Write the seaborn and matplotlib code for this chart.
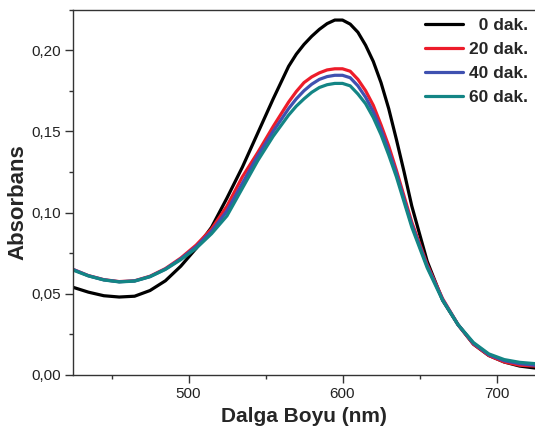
import numpy as np
import pandas as pd
import matplotlib
matplotlib.use('Agg')
import matplotlib.pyplot as plt
import seaborn as sns
from matplotlib.ticker import FuncFormatter, MultipleLocator

# wavelength grid (nm) and absorbance readings
wavelength = [425, 435, 445, 455, 465, 475, 485, 495, 505, 515, 525, 535, 545, 555, 565, 570,
              575, 580, 585, 590, 595, 600, 605, 610, 615, 620, 625, 630, 635, 640, 645,
              655, 665, 675, 685, 695, 705, 715, 725]

abs_0 = [0.054, 0.051, 0.0488, 0.048, 0.0485, 0.052, 0.058, 0.067, 0.078, 0.091, 0.109,
         0.128, 0.149, 0.170, 0.190, 0.1975, 0.2035, 0.2085, 0.2128, 0.2163, 0.2185, 0.2185,
         0.216, 0.211, 0.203, 0.193, 0.180, 0.164, 0.145, 0.125, 0.104,
         0.070, 0.046, 0.031, 0.019, 0.012, 0.008, 0.0055, 0.0043]
abs_20 = [0.065, 0.0612, 0.0587, 0.0575, 0.058, 0.0608, 0.0655, 0.072, 0.080, 0.090, 0.104,
          0.122, 0.137, 0.153, 0.168, 0.1745, 0.180, 0.1835, 0.186, 0.1878, 0.1885, 0.1885,
          0.187, 0.182, 0.175, 0.166, 0.154, 0.141, 0.126, 0.110, 0.094,
          0.068, 0.047, 0.031, 0.019, 0.012, 0.008, 0.006, 0.0055]
abs_40 = [0.065, 0.0611, 0.0586, 0.0574, 0.0579, 0.0606, 0.0652, 0.0715, 0.079, 0.0885, 0.101,
          0.118, 0.135, 0.150, 0.164, 0.170, 0.175, 0.179, 0.182, 0.1837, 0.1845, 0.1845,
          0.183, 0.178, 0.171, 0.162, 0.151, 0.138, 0.124, 0.108, 0.0925,
          0.067, 0.0465, 0.031, 0.0195, 0.0125, 0.0088, 0.007, 0.006]
abs_60 = [0.0646, 0.061, 0.0585, 0.0573, 0.0578, 0.0605, 0.065, 0.071, 0.078, 0.087, 0.098,
          0.115, 0.132, 0.147, 0.160, 0.1655, 0.170, 0.174, 0.177, 0.1787, 0.1795, 0.1795,
          0.178, 0.173, 0.167, 0.1585, 0.148, 0.1355, 0.122, 0.1065, 0.091,
          0.066, 0.046, 0.031, 0.020, 0.013, 0.0095, 0.0078, 0.007]

labels = ['  0 dak.', '20 dak.', '40 dak.', '60 dak.']
colors = ['#000000', '#ED1C2A', '#3F51B0', '#138585']

df = pd.concat([
    pd.DataFrame({'wl': wavelength, 'abs': vals, 'time': lab})
    for vals, lab in zip([abs_0, abs_20, abs_40, abs_60], labels)
])

sns.set_style('ticks')
plt.rcParams['font.family'] = ['Liberation Sans', 'DejaVu Sans']

fig = plt.figure(figsize=(5.35, 4.32), dpi=100)
ax = fig.add_axes([73 / 535, 1 - 375 / 432, 1 - 73 / 535, (375 - 9.5) / 432])

sns.lineplot(data=df, x='wl', y='abs', hue='time', hue_order=labels,
             palette=colors, linewidth=2.3, ax=ax, sort=False, estimator=None)

ax.set_xlim(425, 725)
ax.set_ylim(0, 0.225)
ax.xaxis.set_major_locator(MultipleLocator(100))
ax.xaxis.set_minor_locator(MultipleLocator(50))
ax.yaxis.set_major_locator(MultipleLocator(0.05))
ax.yaxis.set_minor_locator(MultipleLocator(0.025))
ax.yaxis.set_major_formatter(FuncFormatter(lambda v, _: f'{v:.2f}'.replace('.', ',')))

ax.tick_params(which='major', direction='out', length=5.5, width=1, colors='#333333',
               labelsize=11, labelcolor='#222222', pad=3.5)
ax.tick_params(which='minor', direction='out', length=3, width=1, colors='#333333')
ax.tick_params(top=False, right=False)

for side in ['left', 'bottom', 'top']:
    ax.spines[side].set_color('#333333')
    ax.spines[side].set_linewidth(1.0)
ax.spines['right'].set_visible(False)

ax.set_xlabel('Dalga Boyu (nm)', fontsize=15, fontweight='bold', labelpad=4)
ax.set_ylabel('Absorbans', fontsize=16, fontweight='bold')
ax.yaxis.set_label_coords(-0.097, 0.473)

leg = ax.legend(loc='upper right', bbox_to_anchor=(1.003, 1.0), frameon=False,
                prop={'weight': 'bold', 'size': 12.5}, handlelength=2.2,
                handletextpad=0.3, labelspacing=0.5, borderaxespad=0.1, borderpad=0.4)

fig.savefig('out.png', dpi=100)
